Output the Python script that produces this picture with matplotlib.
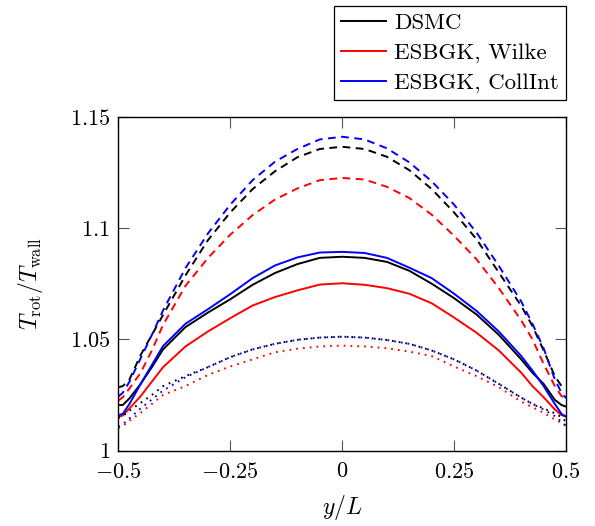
import numpy as np
import matplotlib
matplotlib.use("Agg")
import matplotlib.pyplot as plt

plt.rcParams['font.family'] = 'serif'
plt.rcParams['font.serif'] = ['cmr10']
plt.rcParams['mathtext.fontset'] = 'cm'
plt.rcParams['axes.unicode_minus'] = False

# y/L positions
y = [-0.5, -0.49, -0.475, -0.45, -0.425, -0.4, -0.35, -0.3, -0.25, -0.2, -0.15, -0.1, -0.05, 0.0,
     0.05, 0.1, 0.15, 0.2, 0.25, 0.3, 0.35, 0.4, 0.425, 0.45, 0.475, 0.49, 0.5]

# dashed case
dsmc_dash = [1.0285, 1.029, 1.032, 1.043, 1.052, 1.061, 1.0787, 1.0945, 1.107, 1.1175, 1.1255, 1.1318, 1.1355, 1.1365,
             1.1355, 1.132, 1.126, 1.1175, 1.107, 1.095, 1.080, 1.065, 1.056, 1.045, 1.0335, 1.029, 1.028]
wilke_dash = [1.0225, 1.024, 1.028, 1.035, 1.045, 1.0565, 1.074, 1.0865, 1.097, 1.1058, 1.1128, 1.1178, 1.1215, 1.1225,
              1.1218, 1.1185, 1.1135, 1.106, 1.0965, 1.086, 1.073, 1.0585, 1.050, 1.039, 1.029, 1.0245, 1.0235]
coll_dash = [1.0243, 1.026, 1.031, 1.0415, 1.052, 1.063, 1.082, 1.0975, 1.1105, 1.1215, 1.1298, 1.1355, 1.1398, 1.141,
             1.1398, 1.1358, 1.1295, 1.121, 1.1105, 1.098, 1.083, 1.067, 1.057, 1.046, 1.032, 1.026, 1.0236]

# solid case
dsmc_solid = [1.0205, 1.0205, 1.0235, 1.030, 1.0375, 1.0455, 1.0555, 1.062, 1.068, 1.0745, 1.0798, 1.0838, 1.0866, 1.0871,
              1.0866, 1.0848, 1.0808, 1.075, 1.0685, 1.0612, 1.052, 1.041, 1.035, 1.030, 1.0228, 1.0205, 1.0198]
wilke_solid = [1.0152, 1.0158, 1.019, 1.0245, 1.031, 1.0375, 1.0468, 1.0535, 1.0595, 1.0652, 1.069, 1.072, 1.0746, 1.0752,
               1.0745, 1.073, 1.0705, 1.0662, 1.0598, 1.053, 1.045, 1.035, 1.029, 1.024, 1.0185, 1.016, 1.0153]
coll_solid = [1.016, 1.0165, 1.021, 1.030, 1.0385, 1.047, 1.057, 1.0635, 1.0703, 1.0775, 1.0832, 1.0868, 1.089, 1.0893,
              1.0888, 1.0866, 1.0822, 1.0775, 1.0705, 1.0628, 1.0535, 1.0425, 1.036, 1.029, 1.021, 1.0165, 1.0153]

# dotted case
dsmc_dot = [1.0148, 1.0155, 1.018, 1.0215, 1.025, 1.029, 1.0335, 1.0375, 1.042, 1.0455, 1.048, 1.0498, 1.0508, 1.0512,
            1.0508, 1.0497, 1.048, 1.045, 1.041, 1.036, 1.030, 1.0238, 1.021, 1.019, 1.0168, 1.015, 1.013]
wilke_dot = [1.0101, 1.011, 1.0135, 1.017, 1.021, 1.025, 1.029, 1.034, 1.0378, 1.041, 1.0442, 1.0458, 1.0468, 1.0472,
             1.0468, 1.046, 1.0445, 1.0425, 1.0378, 1.0335, 1.0285, 1.022, 1.0195, 1.017, 1.014, 1.0125, 1.0111]
coll_dot = [1.0108, 1.0118, 1.0145, 1.019, 1.023, 1.027, 1.033, 1.0375, 1.042, 1.0455, 1.048, 1.0498, 1.0508, 1.0512,
            1.0508, 1.0497, 1.048, 1.045, 1.041, 1.036, 1.030, 1.0238, 1.021, 1.0185, 1.0155, 1.013, 1.011]

fig = plt.figure(figsize=(5.95, 5.26), dpi=100)
ax = fig.add_axes([0.1988, 0.1432, 0.7525, 0.6349])

lw = 1.4
dash = (4, 2.8)
dot = (0.9, 2.6)
cols = ['black', 'red', 'blue']

for data, c in zip([dsmc_dash, wilke_dash, coll_dash], cols):
    ax.plot(y, data, color=c, lw=lw, dashes=dash)
for data, c, lab in zip([dsmc_solid, wilke_solid, coll_solid], cols,
                        ['DSMC', 'ESBGK, Wilke', 'ESBGK, CollInt']):
    ax.plot(y, data, color=c, lw=lw, label=lab)
for data, c in zip([dsmc_dot, wilke_dot, coll_dot], cols):
    ax.plot(y, data, color=c, lw=lw, dashes=dot)

ax.set_xlim(-0.5, 0.5)
ax.set_ylim(1.0, 1.15)
ax.set_xticks([-0.5, -0.25, 0, 0.25, 0.5])
ax.set_xticklabels(['$-0.5$', '$-0.25$', '$0$', '$0.25$', '$0.5$'])
ax.set_yticks([1.0, 1.05, 1.1, 1.15])
ax.set_yticklabels(['$1$', '$1.05$', '$1.1$', '$1.15$'])
ax.tick_params(direction='in', length=8, width=0.8, color='#555555', top=True, right=True,
               labelsize=16, pad=6)
ax.tick_params(axis='x', pad=8)
for s in ax.spines.values():
    s.set_linewidth(1.0)

ax.set_xlabel('$y/L$', fontsize=17, labelpad=8)
ax.set_ylabel(r'$T_\mathrm{rot}/T_\mathrm{wall}$', fontsize=17, labelpad=18)

leg = ax.legend(loc='lower right', bbox_to_anchor=(1.0, 1.05), fontsize=16.5, fancybox=False,
                edgecolor='black', framealpha=1, handlelength=2.0, handletextpad=0.35,
                labelspacing=0.42, borderaxespad=0, borderpad=0.3)
leg.get_frame().set_linewidth(0.9)

fig.savefig('out.png', dpi=100)
